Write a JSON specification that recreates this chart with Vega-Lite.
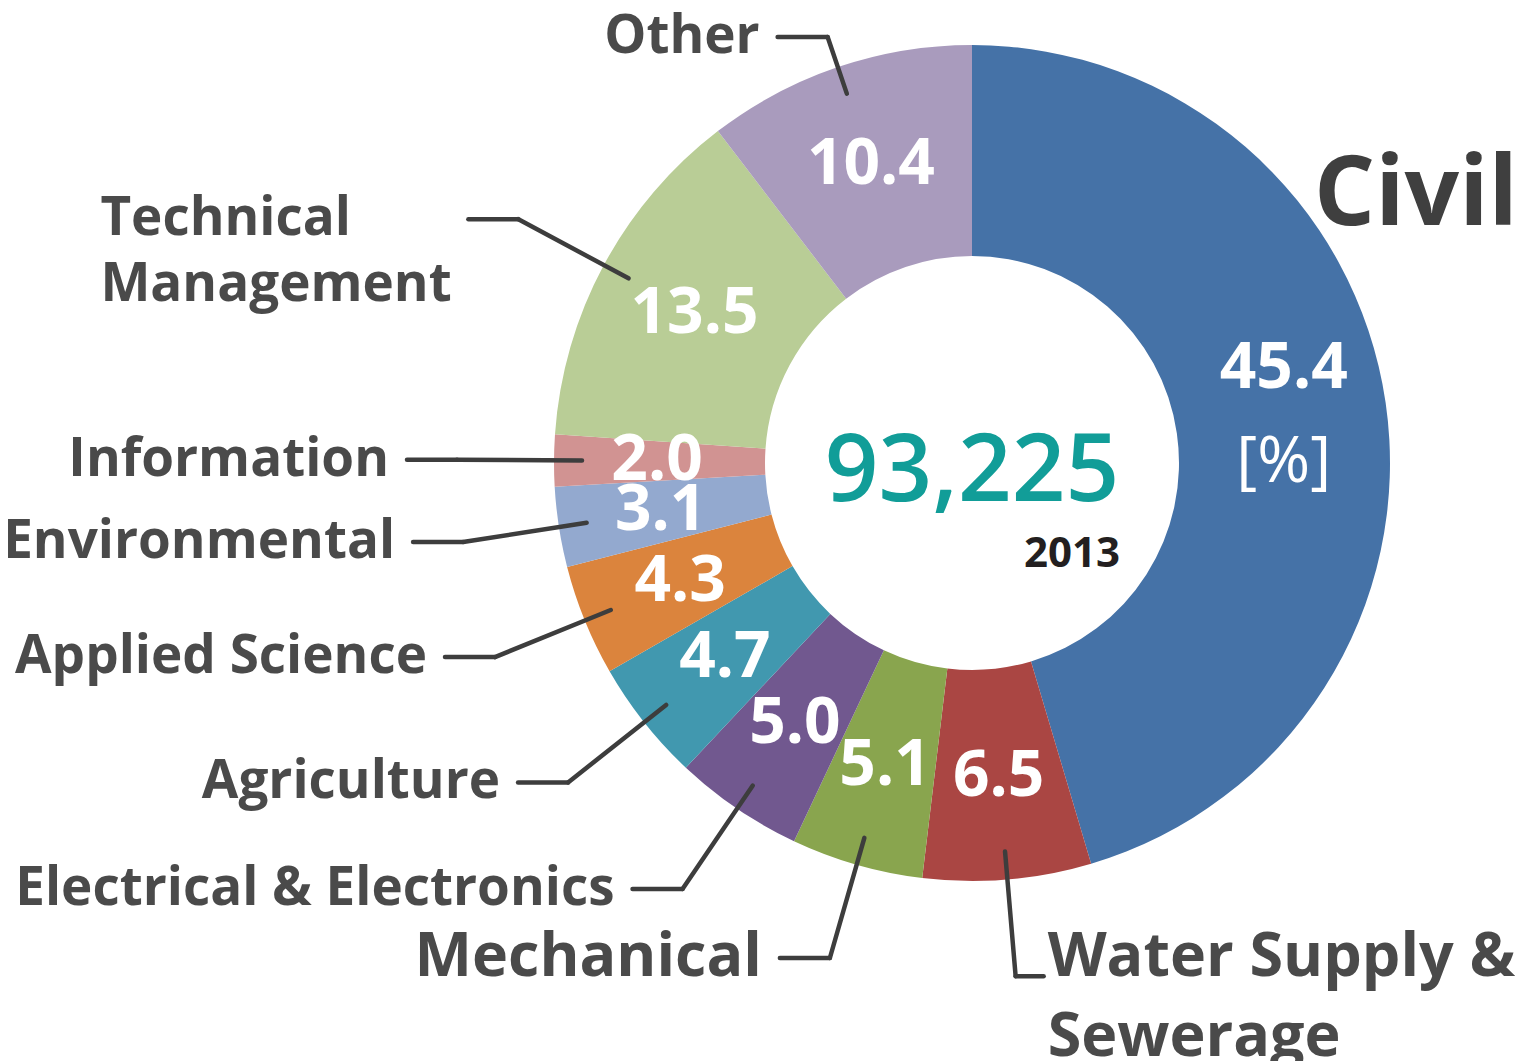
{
  "$schema": "https://vega.github.io/schema/vega-lite/v6.json",
  "width": 1116,
  "height": 926,
  "autosize": {"type": "none"},
  "padding": {"left": 414, "top": 0, "right": 0, "bottom": 135},
  "background": "white",
  "config": {"view": {"stroke": null}},
  "datasets": {
    "shares": [
      {"category": "Civil", "value": 45.4},
      {"category": "Water Supply &\nSewerage", "value": 6.5},
      {"category": "Mechanical", "value": 5.1},
      {"category": "Electrical & Electronics", "value": 5.0},
      {"category": "Agriculture", "value": 4.7},
      {"category": "Applied Science", "value": 4.3},
      {"category": "Environmental", "value": 3.1},
      {"category": "Information", "value": 2.0},
      {"category": "Technical\nManagement", "value": 13.5},
      {"category": "Other", "value": 10.4}
    ],
    "summary": [{"total": 93225, "year": "2013"}]
  },
  "layer": [
    {
      "data": {"name": "shares"},
      "transform": [
        {"window": [{"op": "row_number", "as": "rank"}, {"op": "sum", "field": "value", "as": "cum"}], "frame": [null, 0]},
        {"joinaggregate": [{"op": "sum", "field": "value", "as": "total"}]},
        {"calculate": "2*PI*(datum.cum - datum.value/2)/datum.total", "as": "mid"},
        {"calculate": "sin(datum.mid)", "as": "s"},
        {"calculate": "cos(datum.mid)", "as": "c"},
        {"calculate": "datum.c > 0 ? min(515, 426/datum.c) : 515", "as": "re"},
        {"calculate": "390*datum.s", "as": "x1"},
        {"calculate": "390*datum.c", "as": "y1"},
        {"calculate": "datum.re*datum.s", "as": "ex"},
        {"calculate": "datum.re*datum.c", "as": "ey"},
        {"calculate": "datum.ex + (datum.s < 0 ? -50 : 28)", "as": "hx"},
        {"calculate": "datum.hx + (datum.s < 0 ? -18 : 4)", "as": "lx"},
        {"calculate": "datum.lx - 350", "as": "tmx"},
        {"calculate": "315*datum.s", "as": "vx"},
        {"calculate": "315*datum.c", "as": "vy"},
        {"calculate": "518*sin(datum.mid - 0.397)", "as": "cx"},
        {"calculate": "518*cos(datum.mid - 0.397)", "as": "cy"}
      ],
      "layer": [
        {
          "mark": {"type": "arc", "innerRadius": 207, "outerRadius": 418},
          "encoding": {
            "theta": {"field": "value", "type": "quantitative", "stack": true},
            "order": {"field": "rank", "type": "quantitative"},
            "color": {
              "field": "category", "type": "nominal", "legend": null,
              "scale": {
                "domain": ["Civil", "Water Supply &\nSewerage", "Mechanical", "Electrical & Electronics", "Agriculture", "Applied Science", "Environmental", "Information", "Technical\nManagement", "Other"],
                "range": ["#4572A7", "#AA4643", "#89A54E", "#71588F", "#4198AF", "#DB843D", "#93A9CF", "#D19392", "#B9CD96", "#A99BBD"]
              }
            }
          }
        },
        {
          "transform": [{"filter": "datum.rank > 1"}],
          "mark": {"type": "rule", "color": "#3d3d3d", "strokeWidth": 4.5, "strokeCap": "round"},
          "encoding": {
            "x": {"field": "x1", "type": "quantitative", "scale": {"domain": [-558, 558], "nice": false, "zero": false}, "axis": null},
            "y": {"field": "y1", "type": "quantitative", "scale": {"domain": [-463, 463], "nice": false, "zero": false}, "axis": null},
            "x2": {"field": "ex"},
            "y2": {"field": "ey"}
          }
        },
        {
          "transform": [{"filter": "datum.rank > 1"}],
          "mark": {"type": "rule", "color": "#3d3d3d", "strokeWidth": 4.5, "strokeCap": "round"},
          "encoding": {
            "x": {"field": "ex", "type": "quantitative", "scale": {"domain": [-558, 558], "nice": false, "zero": false}, "axis": null},
            "y": {"field": "ey", "type": "quantitative", "scale": {"domain": [-463, 463], "nice": false, "zero": false}, "axis": null},
            "x2": {"field": "hx"},
            "y2": {"field": "ey"}
          }
        },
        {
          "transform": [{"filter": "datum.rank > 3 && datum.rank != 9"}],
          "mark": {"type": "text", "align": "right", "baseline": "middle", "font": "Open Sans", "fontWeight": 700, "fontSize": 53, "color": "#4a4a4a"},
          "encoding": {
            "x": {"field": "lx", "type": "quantitative", "scale": {"domain": [-558, 558], "nice": false, "zero": false}, "axis": null},
            "y": {"field": "ey", "type": "quantitative", "scale": {"domain": [-463, 463], "nice": false, "zero": false}, "axis": null},
            "text": {"field": "category"}
          }
        },
        {
          "transform": [{"filter": "datum.rank == 9"}],
          "mark": {"type": "text", "align": "left", "baseline": "middle", "font": "Open Sans", "fontWeight": 700, "fontSize": 53, "lineHeight": 66, "lineBreak": "\n", "color": "#4a4a4a"},
          "encoding": {
            "x": {"field": "tmx", "type": "quantitative", "scale": {"domain": [-558, 558], "nice": false, "zero": false}, "axis": null},
            "y": {"field": "ey", "type": "quantitative", "scale": {"domain": [-463, 463], "nice": false, "zero": false}, "axis": null},
            "text": {"field": "category"}
          }
        },
        {
          "transform": [{"filter": "datum.rank == 3"}],
          "mark": {"type": "text", "align": "right", "baseline": "middle", "font": "Open Sans", "fontWeight": 700, "fontSize": 61, "color": "#4a4a4a"},
          "encoding": {
            "x": {"field": "lx", "type": "quantitative", "scale": {"domain": [-558, 558], "nice": false, "zero": false}, "axis": null},
            "y": {"field": "ey", "type": "quantitative", "scale": {"domain": [-463, 463], "nice": false, "zero": false}, "axis": null},
            "text": {"field": "category"}
          }
        },
        {
          "transform": [{"filter": "datum.rank == 2"}],
          "mark": {"type": "text", "align": "left", "baseline": "alphabetic", "font": "Open Sans", "fontWeight": 700, "fontSize": 61, "lineHeight": 80, "lineBreak": "\n", "color": "#4a4a4a"},
          "encoding": {
            "x": {"field": "lx", "type": "quantitative", "scale": {"domain": [-558, 558], "nice": false, "zero": false}, "axis": null},
            "y": {"field": "ey", "type": "quantitative", "scale": {"domain": [-463, 463], "nice": false, "zero": false}, "axis": null},
            "text": {"field": "category"}
          }
        },
        {
          "transform": [{"filter": "datum.rank == 1"}],
          "mark": {"type": "text", "align": "center", "baseline": "middle", "font": "Open Sans", "fontWeight": 700, "fontSize": 96, "color": "#3f3f3f"},
          "encoding": {
            "x": {"field": "cx", "type": "quantitative", "scale": {"domain": [-558, 558], "nice": false, "zero": false}, "axis": null},
            "y": {"field": "cy", "type": "quantitative", "scale": {"domain": [-463, 463], "nice": false, "zero": false}, "axis": null},
            "text": {"field": "category"}
          }
        },
        {
          "transform": [{"filter": "datum.rank > 1"}],
          "mark": {"type": "text", "align": "center", "baseline": "middle", "font": "Open Sans", "fontWeight": 700, "fontSize": 64, "color": "white"},
          "encoding": {
            "x": {"field": "vx", "type": "quantitative", "scale": {"domain": [-558, 558], "nice": false, "zero": false}, "axis": null},
            "y": {"field": "vy", "type": "quantitative", "scale": {"domain": [-463, 463], "nice": false, "zero": false}, "axis": null},
            "text": {"field": "value", "type": "quantitative", "format": ".1f"}
          }
        },
        {
          "transform": [{"filter": "datum.rank == 1"}],
          "mark": {"type": "text", "align": "center", "baseline": "middle", "font": "Open Sans", "fontWeight": 700, "fontSize": 64, "color": "white", "dy": -49},
          "encoding": {
            "x": {"field": "vx", "type": "quantitative", "scale": {"domain": [-558, 558], "nice": false, "zero": false}, "axis": null},
            "y": {"field": "vy", "type": "quantitative", "scale": {"domain": [-463, 463], "nice": false, "zero": false}, "axis": null},
            "text": {"field": "value", "type": "quantitative", "format": ".1f"}
          }
        },
        {
          "transform": [{"filter": "datum.rank == 1"}],
          "mark": {"type": "text", "align": "center", "baseline": "middle", "font": "Open Sans", "fontWeight": 400, "fontSize": 64, "color": "white", "dy": 45},
          "encoding": {
            "x": {"field": "vx", "type": "quantitative", "scale": {"domain": [-558, 558], "nice": false, "zero": false}, "axis": null},
            "y": {"field": "vy", "type": "quantitative", "scale": {"domain": [-463, 463], "nice": false, "zero": false}, "axis": null},
            "text": {"value": "[%]"}
          }
        }
      ]
    },
    {
      "data": {"name": "summary"},
      "layer": [
        {
          "mark": {"type": "text", "align": "center", "baseline": "middle", "font": "Open Sans", "fontWeight": 600, "fontSize": 94, "color": "#119d98", "dy": 10},
          "encoding": {"text": {"field": "total", "type": "quantitative", "format": ","}}
        },
        {
          "mark": {"type": "text", "align": "center", "baseline": "alphabetic", "font": "Open Sans", "fontWeight": 700, "fontSize": 42, "color": "#231f20", "dx": 100, "dy": 104},
          "encoding": {"text": {"field": "year"}}
        }
      ]
    }
  ]
}
